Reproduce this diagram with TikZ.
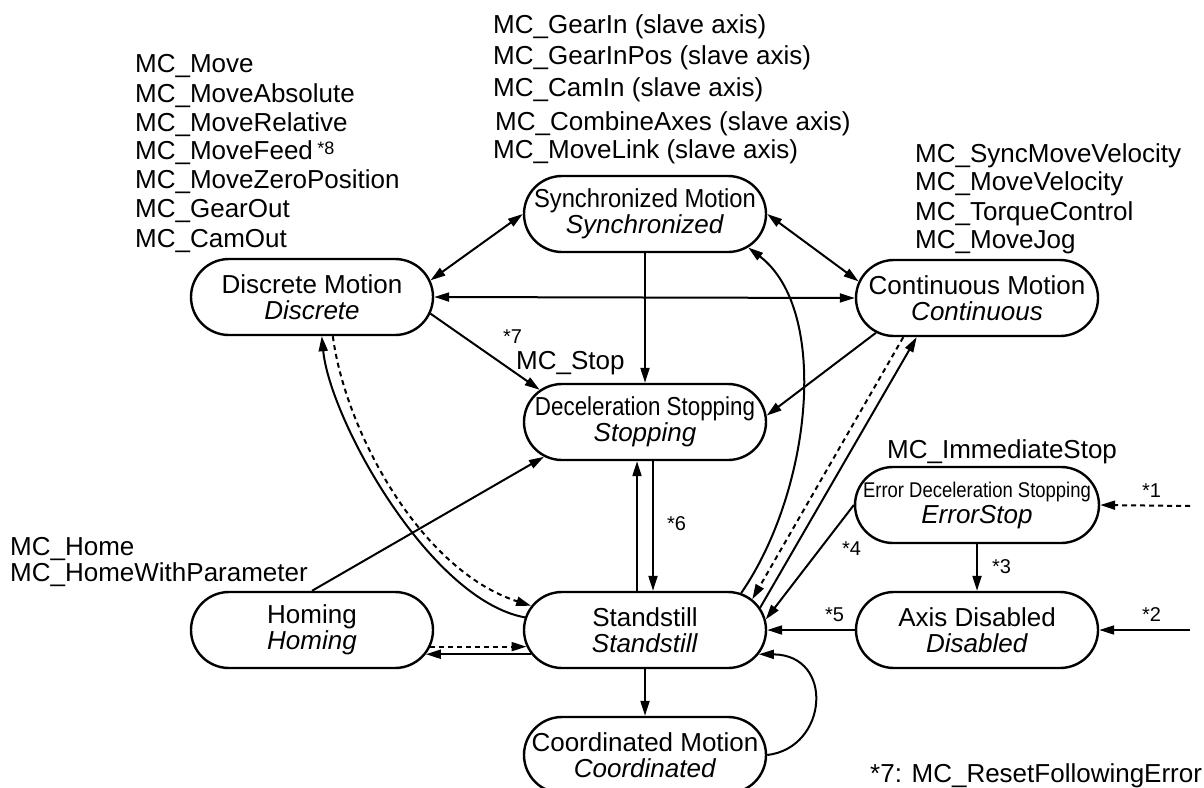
\documentclass[tikz,border=0pt]{standalone}
\usepackage{fontspec}
\usepackage{graphicx}
\setmainfont{Liberation Sans}
\usetikzlibrary{shapes.misc,arrows.meta,calc}
\begin{document}
\begin{tikzpicture}[x=1pt,y=-1pt,
  state/.style={rounded rectangle, draw, line width=2.4pt, minimum width=242pt, minimum height=76pt, inner sep=0pt, align=center, font=\fontsize{26}{26}\selectfont},
  lbl/.style={anchor=base west, inner sep=0pt, font=\fontsize{26}{26}\selectfont},
  note/.style={anchor=base west, inner sep=0pt, font=\fontsize{20}{20}\selectfont},
  conn/.style={line width=2pt, -{Triangle[length=15pt,width=9pt]}},
  biconn/.style={line width=2pt, {Triangle[length=15pt,width=9pt]}-{Triangle[length=15pt,width=9pt]}},
  dsh/.style={dash pattern=on 5pt off 4pt}]
\useasboundingbox (0,0) rectangle (1204,787);
\clip (0,0) rectangle (1204,787);

% states
\node[state] (syn) at (645,214) {\scalebox{0.914}[1]{Synchronized Motion}\\\textit{Synchronized}};
\node[state] (dis) at (312,297) {Discrete Motion\\\textit{Discrete}};
\node[state] (con) at (977,298) {Continuous Motion\\\textit{Continuous}};
\node[state] (stp) at (645,422) {\scalebox{0.86}[1]{Deceleration Stopping}\\\textit{Stopping}};
\node[state] (err) at (977,505) {\scalebox{0.71}[0.82]{Error Deceleration Stopping}\\\textit{ErrorStop}};
\node[state] (axd) at (977,630) {Axis Disabled\\\textit{Disabled}};
\node[state] (std) at (645,630) {Standstill\\\textit{Standstill}};
\node[state] (hom) at (312,630) {Homing\\\textit{Homing}};
\node[state] (coo) at (645,755) {Coordinated Motion\\\textit{Coordinated}};

% labels
\node[lbl] (l1) at (135,72)  {MC\_Move};
\node[lbl] (l2) at (135,102) {MC\_MoveAbsolute};
\node[lbl] (l3) at (135,131) {MC\_MoveRelative};
\node[lbl] (l4) at (135,159) {MC\_MoveFeed\,{\fontsize{18}{18}\selectfont\raisebox{5pt}{*8}}};
\node[lbl] (l5) at (135,188) {MC\_MoveZeroPosition};
\node[lbl] (l6) at (135,217) {MC\_GearOut};
\node[lbl] (l7) at (135,247) {MC\_CamOut};

\node[lbl] (t1) at (493,33)  {MC\_GearIn (slave axis)};
\node[lbl] (t2) at (493,64)  {MC\_GearInPos (slave axis)};
\node[lbl] (t3) at (493,96)  {MC\_CamIn (slave axis)};
\node[lbl] (t4) at (495,130) {MC\_CombineAxes (slave axis)};
\node[lbl] (t5) at (493,158) {MC\_MoveLink (slave axis)};

\node[lbl] (r1) at (915,162) {MC\_SyncMoveVelocity};
\node[lbl] (r2) at (915,190) {MC\_MoveVelocity};
\node[lbl] (r3) at (915,220) {MC\_TorqueControl};
\node[lbl] (r4) at (915,248) {MC\_MoveJog};

\node[lbl] (h1) at (10,555) {MC\_Home};
\node[lbl] (h2) at (10,581) {MC\_HomeWithParameter};
\node[lbl] (imm) at (887,458) {MC\_ImmediateStop};
\node[lbl] (mst) at (516,369) {MC\_Stop};
\node[lbl] (foot) at (870,782) {*7: MC\_ResetFollowingError};

\node[note] (n7) at (503,343) {*7};
\node[note] (n6) at (667,530) {*6};
\node[note] (n5) at (825,621) {*5};
\node[note] (n4) at (842,555) {*4};
\node[note] (n3) at (992,573) {*3};
\node[note] (n2) at (1142,621) {*2};
\node[note] (n1) at (1142,497) {*1};

\coordinate (in1) at (1190,506);
\coordinate (in2) at (1190,630);

% connectors
\draw[biconn] (dis.8) -- (syn.west);
\draw[biconn] (syn.east) -- (con.172);
\draw[biconn] (dis.east) -- (con.west);
\draw[conn] (syn.south) -- (stp.north);
\draw[conn] (dis.-8) -- (stp.163);
\draw[conn] (con.199) -- (stp.3);
\draw[conn] (hom.north) -- (stp.199);
\draw[conn] ([xshift=8pt]stp.south) -- ([xshift=8pt]std.north);
\draw[conn] ([xshift=-8pt]std.north) -- ([xshift=-8pt]stp.south);
\draw[conn] (std.174) .. controls (430,600) and (330,420) .. (dis.-76);
\draw[conn,dsh] (dis.-62) .. controls (345,430) and (420,570) .. (std.168);
\draw[conn,dsh] (hom.-8) -- (std.-172);
\draw[conn] (std.192) -- (hom.-12);
\draw[conn] (std.21) .. controls (812,490) and (830,310) .. (syn.-18);
\draw[conn,dsh] (con.208) -- (std.16);
\draw[conn] (std.11) -- (con.213);
\draw[conn] (err.west) -- (std.5);
\draw[conn] (axd.west) -- (std.east);
\draw[conn] (std.south) -- (coo.north);
\draw[conn] (coo.east) .. controls (828,748) and (835,655) .. (std.-12);
\draw[conn] (err.south) -- (axd.north);
\draw[conn,dsh] (in1) -- (err.east);
\draw[conn] (in2) -- (axd.east);
\end{tikzpicture}
\end{document}
